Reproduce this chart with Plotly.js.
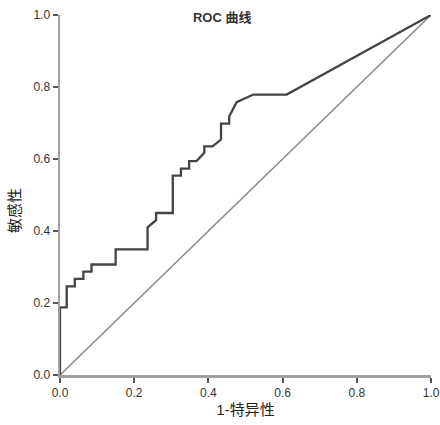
<!DOCTYPE html>
<html>
<head>
<meta charset="utf-8">
<script src="https://cdn.plot.ly/plotly-3.0.1.min.js"></script>
<style>html,body{margin:0;padding:0;background:#fff;}#chart{width:440px;height:425px;}</style>
</head>
<body>
<div id="chart"></div>
<script>
// ROC curve points (1 - specificity, sensitivity)
const fpr = [0.000, 0.000, 0.018, 0.018, 0.040, 0.040, 0.063, 0.063, 0.085, 0.085, 0.150, 0.150, 0.236, 0.236, 0.259, 0.259, 0.304, 0.304, 0.326, 0.326, 0.348, 0.348, 0.368, 0.389, 0.389, 0.411, 0.434, 0.434, 0.456, 0.456, 0.476, 0.521, 0.611, 1.000];
const tpr = [0.000, 0.188, 0.188, 0.246, 0.246, 0.267, 0.267, 0.287, 0.287, 0.307, 0.307, 0.349, 0.349, 0.410, 0.430, 0.450, 0.450, 0.554, 0.554, 0.573, 0.573, 0.594, 0.594, 0.617, 0.635, 0.635, 0.654, 0.698, 0.698, 0.718, 0.758, 0.779, 0.779, 1.000];
// Reference line
const refX = [0, 1];
const refY = [0, 1];
const tickVals = [0, 0.2, 0.4, 0.6, 0.8, 1.0];
const tickText = ["0.0", "0.2", "0.4", "0.6", "0.8", "1.0"];

const fontFam = "Arial, 'Liberation Sans', 'Noto Sans CJK SC', sans-serif";

const traces = [
  {x: refX, y: refY, mode: 'lines', line: {color: '#8c8c8c', width: 1.6}, hoverinfo: 'skip', showlegend: false},
  {x: fpr, y: tpr, mode: 'lines', line: {color: '#444444', width: 2.3}, showlegend: false}
];

const axisCommon = {
  range: [0, 1],
  tickvals: tickVals,
  ticktext: tickText,
  ticks: 'outside',
  ticklen: 5,
  tickwidth: 2,
  tickcolor: '#555',
  showline: true,
  linecolor: '#a0a0a0',
  linewidth: 2.5,
  showgrid: false,
  zeroline: false,
  tickfont: {family: fontFam, size: 12, color: '#333'}
};

const layout = {
  width: 440,
  height: 425,
  margin: {l: 60, r: 9, t: 15, b: 50},
  paper_bgcolor: '#fff',
  plot_bgcolor: '#fff',
  title: {text: '<b>ROC 曲线</b>', font: {family: fontFam, size: 13, color: '#333'}, x: 0.505, xanchor: 'center', y: 0.958, yanchor: 'middle'},
  xaxis: Object.assign({}, axisCommon, {title: {text: '1-特异性', font: {family: fontFam, size: 15, color: '#222'}, standoff: 6}}),
  yaxis: Object.assign({}, axisCommon),
  annotations: [{
    text: '敏感性', xref: 'paper', yref: 'paper', x: -0.121, y: 0.456,
    xanchor: 'center', yanchor: 'middle', textangle: -90, showarrow: false,
    font: {family: fontFam, size: 15, color: '#222'}
  }],
  showlegend: false
};

Plotly.newPlot('chart', traces, layout, {displayModeBar: false, staticPlot: true});
</script>
</body>
</html>
